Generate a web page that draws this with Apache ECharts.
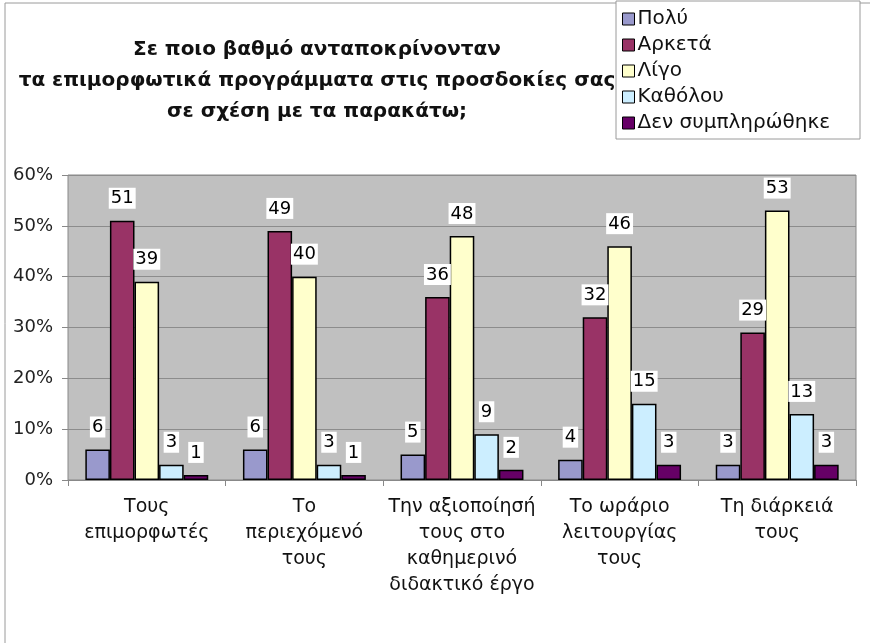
<!DOCTYPE html>
<html>
<head>
<meta charset="utf-8">
<script src="https://cdn.jsdelivr.net/npm/echarts@6/dist/echarts.min.js"></script>
<style>
  html, body { margin: 0; padding: 0; background: #fff; }
  #chart { width: 870px; height: 643px; }
</style>
</head>
<body>
<div id="chart"></div>
<script>
// Categories along the x axis
const categories = [
  'Τους\nεπιμορφωτές',
  'Το\nπεριεχόμενό\nτους',
  'Την αξιοποίησή\nτους στο\nκαθημερινό\nδιδακτικό έργο',
  'Το ωράριο\nλειτουργίας\nτους',
  'Τη διάρκειά\nτους'
];

// Answer shares (%) per category
const poly          = [6, 6, 5, 4, 3];
const arketa        = [51, 49, 36, 32, 29];
const ligo          = [39, 40, 48, 46, 53];
const katholou      = [3, 3, 9, 15, 13];
const denSymplirothike = [1, 1, 2, 3, 3];

const seriesNames = ['Πολύ', 'Αρκετά', 'Λίγο', 'Καθόλου', 'Δεν συμπληρώθηκε'];
const seriesColors = ['#9999cc', '#993366', '#ffffcc', '#cceeff', '#660066'];
const seriesData = [poly, arketa, ligo, katholou, denSymplirothike];

const titleLines = [
  'Σε ποιο βαθμό ανταποκρίνονταν',
  'τα επιμορφωτικά προγράμματα στις προσδοκίες σας',
  'σε σχέση με τα παρακάτω;'
];

const FONT = 'DejaVu Sans';

const chart = echarts.init(document.getElementById('chart'), null, { renderer: 'canvas' });

const series = seriesNames.map((name, i) => ({
  name: name,
  type: 'bar',
  data: seriesData[i],
  barGap: '0%',
  barCategoryGap: '22%',
  itemStyle: { color: seriesColors[i], borderColor: '#000', borderWidth: 1.5 },
  label: {
    show: true,
    position: 'top',
    distance: 12,
    formatter: '{c}',
    color: '#000',
    fontFamily: FONT,
    fontSize: 18,
    backgroundColor: '#fff',
    padding: [2, 2, 1, 2]
  },
  emphasis: { disabled: true }
}));

chart.setOption({
  animation: false,
  backgroundColor: '#fff',
  graphic: [
    {
      type: 'rect',
      shape: { x: 5, y: 3, width: 900, height: 700 },
      style: { fill: 'none', stroke: '#9a9a9a', lineWidth: 1 },
      z: 0
    },
    {
      type: 'text',
      x: 317,
      y: 34,
      style: {
        text: titleLines.join('\n'),
        fontFamily: FONT,
        fontWeight: 'bold',
        fontSize: 20,
        lineHeight: 31,
        fill: '#111',
        align: 'center'
      }
    }
  ],
  legend: {
    orient: 'vertical',
    left: 616,
    top: 1,
    padding: [8, 30, 6, 6],
    itemWidth: 12,
    itemHeight: 12,
    itemGap: 6,
    icon: 'rect',
    backgroundColor: '#fff',
    borderColor: '#9a9a9a',
    borderWidth: 1,
    textStyle: { fontFamily: FONT, fontSize: 20, lineHeight: 20, color: '#111', padding: [0, 0, 0, -2] },
    itemStyle: { borderColor: '#000', borderWidth: 1 },
    selectedMode: false,
    data: seriesNames
  },
  grid: {
    left: 68,
    right: 14,
    top: 175,
    bottom: 163,
    show: true,
    backgroundColor: '#c0c0c0',
    borderColor: '#888',
    borderWidth: 1,
    containLabel: false
  },
  xAxis: {
    type: 'category',
    data: categories,
    axisLine: { show: true, lineStyle: { color: '#888', width: 1 } },
    axisTick: { show: true, length: 6, lineStyle: { color: '#888' } },
    axisLabel: {
      interval: 0,
      margin: 14,
      fontFamily: FONT,
      fontSize: 19,
      lineHeight: 26,
      color: '#111'
    }
  },
  yAxis: {
    type: 'value',
    min: 0,
    max: 60,
    interval: 10,
    axisLine: { show: false },
    axisTick: { show: true, length: 6, lineStyle: { color: '#888' } },
    axisLabel: {
      formatter: '{value}%',
      fontFamily: FONT,
      fontSize: 18,
      color: '#222',
      margin: 15
    },
    splitLine: { show: true, lineStyle: { color: '#8c8c8c', width: 1 } }
  },
  series: series
});
</script>
</body>
</html>
